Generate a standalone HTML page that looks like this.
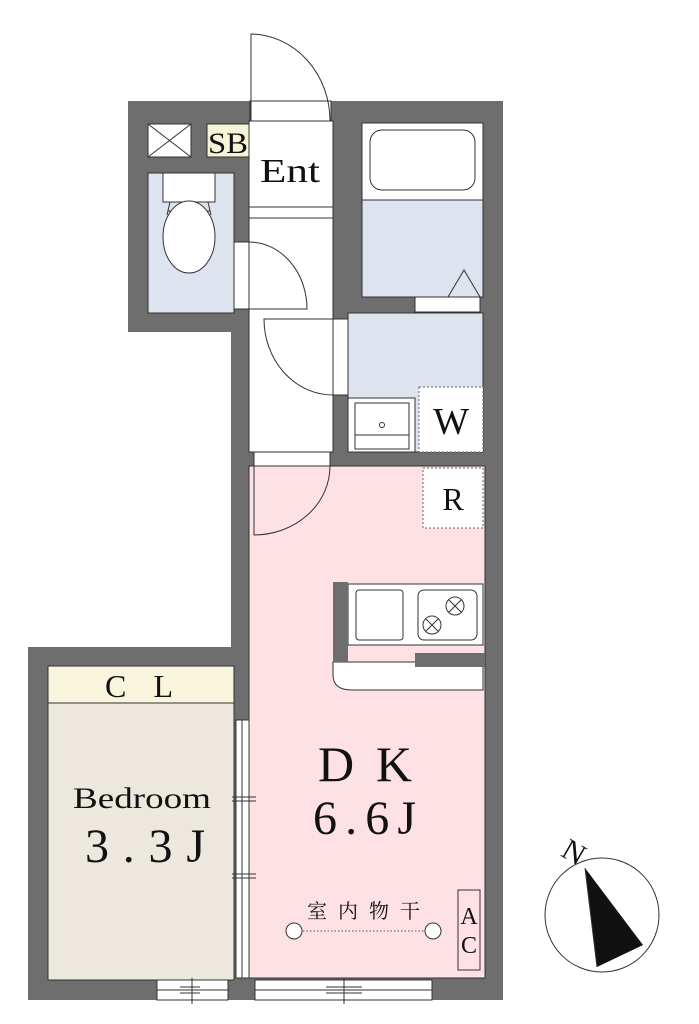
<!DOCTYPE html>
<html><head><meta charset="utf-8"><style>body{margin:0;background:#fff}svg{display:block}text{font-family:"Liberation Serif","Noto Serif CJK SC",serif;fill:#111}</style></head><body>
<svg width="699" height="1024" viewBox="0 0 699 1024" xmlns="http://www.w3.org/2000/svg">
<polygon points="128,101 503,101 503,1000 28,1000 28,647 231,647 231,332 128,332" fill="#6e6e6e"/>
<rect x="249" y="121" width="84" height="331" fill="#fff" stroke="#333"/>
<line x1="249" y1="207" x2="333" y2="207" stroke="#333"/>
<line x1="249" y1="218" x2="333" y2="218" stroke="#333"/>
<text x="260" y="182" font-size="34" textLength="60" lengthAdjust="spacingAndGlyphs">Ent</text>
<rect x="250" y="101" width="81" height="20" fill="#fff" stroke="#333" stroke-width="1"/>
<path d="M251,121 L251,34 A80,87 0 0 1 330,121" fill="none" stroke="#333" stroke-width="1"/>
<rect x="148" y="124" width="43" height="33" fill="#fff" stroke="#333"/>
<path d="M148,124 L191,157 M191,124 L148,157" stroke="#333"/>
<rect x="207" y="124" width="42" height="33" fill="#f7f3d6" stroke="#333"/>
<text x="208" y="153" font-size="30" textLength="40" lengthAdjust="spacingAndGlyphs">SB</text>
<rect x="148" y="173" width="86" height="140" fill="#dde4f0" stroke="#333"/>
<rect x="163" y="173" width="52" height="29" fill="#fff" stroke="#333"/>
<path d="M170,202 L167,215 M208,202 L211,215" stroke="#333" fill="none"/>
<line x1="168" y1="211" x2="210" y2="211" stroke="#333"/>
<ellipse cx="189" cy="237" rx="26" ry="36" fill="#fff" stroke="#333"/>
<rect x="234" y="242" width="15" height="67" fill="#fff" stroke="#333"/>
<path d="M249,242 A58,67 0 0 1 307,309 L249,309" fill="none" stroke="#333"/>
<rect x="362" y="123" width="121" height="174" fill="#fff" stroke="#333"/>
<rect x="362" y="200" width="121" height="97" fill="#dde4f0" stroke="#333"/>
<rect x="370" y="130" width="105" height="60" rx="12" fill="#fff" stroke="#333"/>
<path d="M448,297 L464,270 L480,297" fill="none" stroke="#333"/>
<rect x="415" y="297" width="65" height="15" fill="#fff" stroke="#333"/>
<rect x="348" y="313" width="135" height="139" fill="#dde4f0" stroke="#333"/>
<rect x="333" y="319" width="15" height="76" fill="#fff" stroke="#333"/>
<path d="M333,319 L264,319 A69,76 0 0 0 333,395" fill="none" stroke="#333"/>
<rect x="348" y="398" width="67" height="54" fill="#fff" stroke="#333"/>
<rect x="355" y="403" width="54" height="46" fill="#fff" stroke="#333"/>
<line x1="355" y1="435" x2="409" y2="435" stroke="#333"/>
<circle cx="382" cy="425" r="2.5" fill="none" stroke="#333"/>
<rect x="419" y="387" width="64" height="65" fill="#fff" stroke="#666" stroke-dasharray="2,2"/>
<text x="451" y="434" font-size="38" text-anchor="middle">W</text>
<rect x="249" y="466" width="236" height="512" fill="#fde1e5" stroke="#333"/>
<rect x="254" y="452" width="76" height="14" fill="#fff" stroke="#333"/>
<path d="M254,466 L254,535 A76,69 0 0 0 330,466" fill="none" stroke="#333"/>
<rect x="423" y="468" width="60" height="60" fill="#fff" stroke="#666" stroke-dasharray="2,2"/>
<text x="453" y="510" font-size="32" text-anchor="middle">R</text>
<path d="M333,662 L483,662 L483,690 L352,690 Q333,690 333,675 Z" fill="#fff" stroke="#333"/>
<rect x="348" y="584" width="135" height="61" fill="#fff" stroke="#333"/>
<rect x="333" y="582" width="15" height="80" fill="#6e6e6e"/>
<rect x="415" y="653" width="70" height="14" fill="#6e6e6e"/>
<rect x="356" y="590" width="47" height="50" rx="3" fill="#fff" stroke="#333"/>
<rect x="418" y="590" width="59" height="50" rx="6" fill="#fff" stroke="#333"/>
<circle cx="455" cy="606" r="9" fill="none" stroke="#333"/><path d="M449,600 L461,612 M461,600 L449,612" stroke="#333"/>
<circle cx="432" cy="625" r="9" fill="none" stroke="#333"/><path d="M426,619 L438,631 M438,619 L426,631" stroke="#333"/>
<text x="318" y="781" font-size="50" textLength="94" lengthAdjust="spacing">DK</text>
<text x="313" y="834" font-size="48" textLength="103" lengthAdjust="spacing">6.6J</text>
<text x="307" y="918" font-size="20" textLength="113" lengthAdjust="spacing">室内物干</text>
<circle cx="294" cy="931" r="8" fill="#fff" stroke="#333"/>
<circle cx="433" cy="931" r="8" fill="#fff" stroke="#333"/>
<line x1="303" y1="931" x2="424" y2="931" stroke="#555" stroke-dasharray="1.5,2"/>
<rect x="458" y="890" width="22" height="80" fill="#fde1e5" stroke="#333"/>
<text x="469" y="924" font-size="24" text-anchor="middle">A</text>
<text x="469" y="953" font-size="24" text-anchor="middle">C</text>
<rect x="48" y="666" width="186" height="314" fill="#ece8de" stroke="#333"/>
<rect x="48" y="666" width="186" height="37" fill="#f8f5dc" stroke="#333"/>
<text x="105" y="697" font-size="32" textLength="68" lengthAdjust="spacing">CL</text>
<text x="73" y="808" font-size="30" textLength="138" lengthAdjust="spacingAndGlyphs">Bedroom</text>
<text x="85" y="862" font-size="48" textLength="120" lengthAdjust="spacing">3.3J</text>
<rect x="236" y="720" width="13" height="258" fill="#fff" stroke="#333"/>
<line x1="242" y1="720" x2="242" y2="978" stroke="#333"/>
<path d="M232,797 L256,797 M232,801 L256,801 M242,790 L242,812 M232,874 L256,874 M232,878 L256,878 M242,860 L242,885" stroke="#333"/>
<rect x="157" y="980" width="71" height="20" fill="#fff" stroke="#333"/>
<line x1="157" y1="990" x2="228" y2="990" stroke="#333"/>
<path d="M192,978 L192,1004 M180,987 L200,987 M180,993 L200,993" stroke="#333"/>
<rect x="255" y="980" width="177" height="20" fill="#fff" stroke="#333"/>
<line x1="255" y1="990" x2="432" y2="990" stroke="#333"/>
<path d="M344,978 L344,1004 M326,987 L362,987 M326,993 L362,993" stroke="#333"/>
<circle cx="602" cy="915" r="57" fill="#fff" stroke="#333"/>
<polygon points="585,868 643,945 597,967" fill="#111"/>
<line x1="585" y1="868" x2="597" y2="967" stroke="#333"/>
<text x="574" y="862" font-size="30" text-anchor="middle" transform="rotate(30 574 852)">N</text>
</svg>
</body></html>
